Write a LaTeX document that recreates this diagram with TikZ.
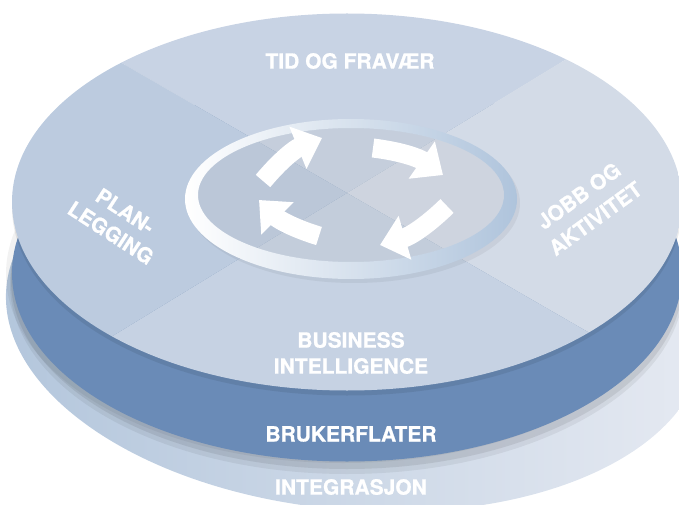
\documentclass[tikz,border=0pt]{standalone}
\usepackage{fontspec}
\setmainfont{TeX Gyre Heros}[BoldFeatures={FakeBold=0.8}]
\usetikzlibrary{arrows.meta}
\definecolor{qtop}{HTML}{C8D3E4}
\definecolor{qleft}{HTML}{BCCBDF}
\definecolor{qright}{HTML}{D3DBE7}
\definecolor{qbottom}{HTML}{C6D2E3}
\definecolor{band}{HTML}{6A8BB7}
\definecolor{baseL}{HTML}{B3C6DC}
\definecolor{baseR}{HTML}{E6EAF2}
\definecolor{rimR}{HTML}{AFC4DC}
\tikzset{
  sectortext/.style={text=white, font=\fontsize{21}{26}\selectfont\bfseries, align=center, inner sep=0pt},
  cyclearrow/.style={white, line width=19pt, -{Triangle[length=26pt,width=44pt]}, bend left=14},
}
\begin{document}
\begin{tikzpicture}[x=1pt,y=1pt]
\useasboundingbox (0,0) rectangle (679,504);
\clip (0,0) rectangle (679,504);
\shade[left color=baseL, right color=baseR, rotate around={-5:(355,186)}] (355,186) ellipse [x radius=350pt, y radius=192pt];
\fill[black, opacity=.06] (347,220) ellipse [x radius=337pt, y radius=190pt];
\fill[black, opacity=.08] (347,224) ellipse [x radius=336pt, y radius=189pt];
\fill[black, opacity=.05] (343,230) ellipse [x radius=337pt, y radius=189pt];
\fill[band] (347,231) ellipse [x radius=335pt, y radius=188.5pt];
\fill[black, opacity=.08] (347,297) ellipse [x radius=335pt, y radius=188.5pt];
\begin{scope}
  \clip (347,302) ellipse [x radius=335pt, y radius=188.5pt];
  \coordinate (C) at (347,311);
  \fill[qtop] (C) -- (-200,626.6) -- (900,648.3) -- cycle;
  \fill[qright] (C) -- (900,648.3) -- (900,-8) -- cycle;
  \fill[qbottom] (C) -- (900,-8) -- (-200,-22.7) -- cycle;
  \fill[qleft] (C) -- (-200,-22.7) -- (-200,626.6) -- cycle;
\end{scope}
\fill[black, opacity=.05] (354,301) ellipse [x radius=166pt, y radius=80pt];
\shade[left color=white, right color=rimR, even odd rule] (351,305) ellipse [x radius=166pt, y radius=80pt] (351,309) ellipse [x radius=153pt, y radius=67pt];
\fill[white, opacity=.12] (351,309) ellipse [x radius=153pt, y radius=67pt];
\coordinate (a1) at (263,323);
\coordinate (b1) at (322,366);
\coordinate (a2) at (373,356);
\coordinate (b2) at (443,329);
\coordinate (a3) at (447,298);
\coordinate (b3) at (380,259);
\coordinate (a4) at (319,268);
\coordinate (b4) at (259,304);
\draw[cyclearrow] (a1) to (b1);
\draw[cyclearrow] (a2) to (b2);
\draw[cyclearrow] (a3) to (b3);
\draw[cyclearrow] (a4) to (b4);
\node[sectortext] (tid) at (350,443) {TID OG FRAVÆR};
\node[sectortext, rotate=-33] (plan) at (118,282) {PLAN-\\LEGGING};
\node[sectortext, rotate=36] (jobb) at (587,297) {JOBB OG\\[2pt]AKTIVITET};
\node[sectortext] (bi) at (351,151) {BUSINESS\\INTELLIGENCE};
\node[sectortext] (bruk) at (351,70) {BRUKERFLATER};
\node[sectortext] (integ) at (351,17) {INTEGRASJON};
\end{tikzpicture}
\end{document}
